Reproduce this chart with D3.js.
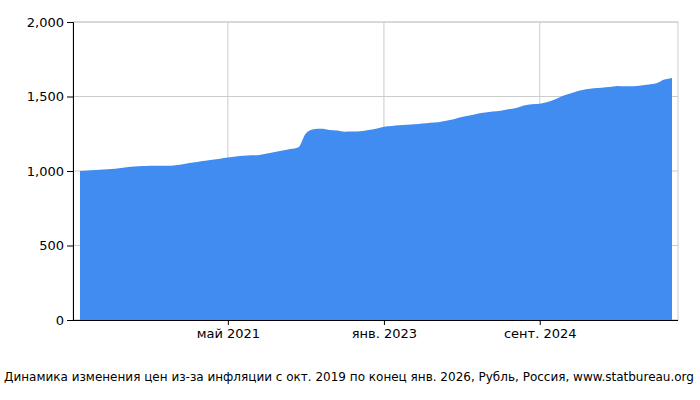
<!DOCTYPE html><html><head><meta charset="utf-8"><script src="https://cdn.jsdelivr.net/npm/d3@7"></script>
<style>body{margin:0;background:#fff}text{font-family:"DejaVu Sans",sans-serif}</style></head><body><svg id="c" width="700" height="400"></svg>
<script>
const months=d3.timeMonths(new Date(2019,9,1),new Date(2026,1,1));
const values=[1000,1003,1006,
1010,1013,1018,1026,1030,1033,1036,1036,1035,1037,1044,1053,
1060,1068,1076,1083,1090,1097,1102,1105,1108,1117,1128,1138,
1148,1160,1250,1280,1283,1276,1271,1264,1265,1267,1275,1284,
1297,1302,1307,1310,1313,1318,1324,1327,1337,1348,1362,1372,
1384,1393,1399,1405,1415,1423,1440,1448,1452,1463,1482,1505,
1522,1538,1548,1555,1559,1563,1570,1568,1569,1574,1580,1589,
1614];
const endValue=1625;
const yTicks=[0,500,1000,1500,2000];
const xTickDates=[new Date(2021,4,1),new Date(2023,0,1),new Date(2024,8,1)];
const xTickLabels=["май 2021","янв. 2023","сент. 2024"];
const caption="Динамика изменения цен из-за инфляции с окт. 2019 по конец янв. 2026, Рубль, Россия, www.statbureau.org";
const L=73,R=678,T=22,B=320;
const svg=d3.select("#c");
const x=d3.scaleTime().domain([new Date(2019,9,1),new Date(2026,0,31)]).range([80,672]);
const y=d3.scaleLinear().domain([0,2000]).range([B,T]);
svg.append("rect").attr("x",L).attr("y",T).attr("width",R-L).attr("height",B-T).attr("fill","none").attr("stroke","#ccc");
yTicks.forEach(v=>svg.append("line").attr("x1",L).attr("x2",R).attr("y1",y(v)).attr("y2",y(v)).attr("stroke","#ccc"));
xTickDates.forEach(d=>svg.append("line").attr("x1",x(d)).attr("x2",x(d)).attr("y1",T).attr("y2",B).attr("stroke","#ccc"));
const data=months.map((m,i)=>({d:m,v:values[i]}));
data.push({d:new Date(2026,0,31),v:endValue});
svg.append("path").datum(data).attr("fill","#418cf0")
 .attr("d",d3.area().x(d=>x(d.d)).y0(y(0)).y1(d=>y(d.v)).curve(d3.curveMonotoneX));
const ya=svg.append("g").attr("transform",`translate(${L},0)`).call(d3.axisLeft(y).tickValues(yTicks).tickSize(6).tickPadding(3));
ya.selectAll("text").attr("font-size",13).attr("fill","#000");
ya.select(".domain").attr("stroke","#000");
const xa=svg.append("g").attr("transform",`translate(0,${B})`).call(d3.axisBottom(x).tickValues(xTickDates).tickFormat((d,i)=>xTickLabels[i]).tickSize(5).tickPadding(4));
xa.selectAll("text").attr("font-size",13).attr("fill","#000");
xa.select(".domain").attr("d",`M${L},0.5H${R}`).attr("stroke","#000");
svg.append("text").attr("x",349).attr("y",381).attr("text-anchor","middle").attr("font-size",12).text(caption);
</script></body></html>
